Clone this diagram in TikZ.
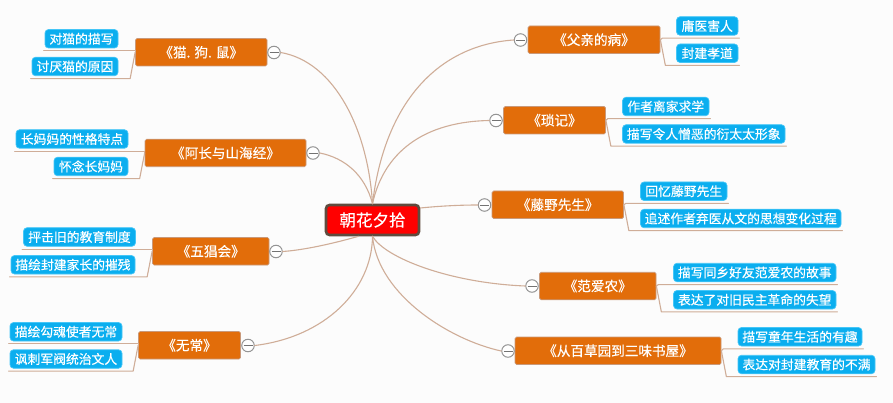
\documentclass[tikz,border=0pt]{standalone}
\usepackage{fontspec}
\setmainfont[FakeBold=0.35]{Noto Sans CJK SC}
\definecolor{bg}{HTML}{FCFCFC}
\definecolor{linkc}{HTML}{CFAD98}
\definecolor{topicc}{HTML}{E26D0A}
\definecolor{topicb}{HTML}{C9997A}
\definecolor{leafc}{HTML}{0BAEEF}
\definecolor{leafb}{HTML}{45C6F7}
\definecolor{rootb}{HTML}{5F4B3E}
\tikzset{
  link/.style={draw=linkc,line width=1.1pt,line cap=round,line join=round},
  rootnode/.style={draw=rootb,line width=2.6pt,fill=red,rounded corners=3.5pt,text=white,inner sep=0pt,minimum width=93pt,minimum height=30pt,font=\fontsize{16.5}{17}\selectfont},
  topicnode/.style={draw=topicb,line width=0.7pt,fill=topicc,rounded corners=1.5pt,text=white,inner sep=0pt,minimum height=27.5pt,font=\fontsize{13.6}{14}\selectfont},
  leafnode/.style={draw=leafb,line width=0.7pt,fill=leafc,rounded corners=3.5pt,text=white,inner sep=0pt,minimum height=18.5pt,font=\fontsize{12.8}{14}\selectfont},
  foldnode/.style={circle,draw=black!42,line width=1pt,fill=white,inner sep=0pt,minimum size=12.5pt,
    path picture={\draw[black!55,line width=0.8pt] ([xshift=-4.5pt]path picture bounding box.center) -- ([xshift=4.5pt]path picture bounding box.center);}}
}
\begin{document}
\begin{tikzpicture}[x=1pt,y=-1pt]
\useasboundingbox (0,0) rectangle (893,403);
\fill[bg] (0,0) rectangle (893,403);

\node[rootnode] (root) at (372.5,220) {朝花夕拾};

% left topics
\node[topicnode,minimum width=131.5pt] (t1) at (201.25,52.25) {《猫. 狗. 鼠》};
\node[foldnode] (d1) at (274,52.5) {};
\node[leafnode,minimum width=73pt] (a1) at (81.5,38.75) {对猫的描写};
\node[leafnode,minimum width=86pt] (a2) at (75,66.5) {讨厌猫的原因};

\node[topicnode,minimum width=161pt] (t2) at (225.5,153) {《阿长与山海经》};
\node[foldnode] (d2) at (313,153) {};
\node[leafnode,minimum width=112pt] (b1) at (72,139) {长妈妈的性格特点};
\node[leafnode,minimum width=74pt] (b2) at (91,166.5) {怀念长妈妈};

\node[topicnode,minimum width=116.5pt] (t3) at (210.75,251.25) {《五猖会》};
\node[foldnode] (d3) at (276,251.5) {};
\node[leafnode,minimum width=112pt] (c1) at (79.5,237) {抨击旧的教育制度};
\node[leafnode,minimum width=124pt] (c2) at (73,264.75) {描绘封建家长的摧残};

\node[topicnode,minimum width=102pt] (t4) at (189.5,345.25) {《无常》};
\node[foldnode] (d4) at (248,345.5) {};
\node[leafnode,minimum width=112pt] (e1) at (66,331.75) {描绘勾魂使者无常};
\node[leafnode,minimum width=112pt] (e2) at (66,359) {讽刺军阀统治文人};

% right topics
\node[topicnode,minimum width=132pt] (t5) at (594,39.75) {《父亲的病》};
\node[foldnode] (d5) at (520.5,40) {};
\node[leafnode,minimum width=61.5pt] (f1) at (707.25,26) {庸医害人};
\node[leafnode,minimum width=61.5pt] (f2) at (707.25,53.25) {封建孝道};

\node[topicnode,minimum width=102pt] (t6) at (554.5,120.25) {《琐记》};
\node[foldnode] (d6) at (496,120.5) {};
\node[leafnode,minimum width=86.5pt] (g1) at (665.75,106.5) {作者离家求学};
\node[leafnode,minimum width=162.5pt] (g2) at (703.75,134) {描写令人憎恶的衍太太形象};

\node[topicnode,minimum width=131.5pt] (t7) at (557.75,204.75) {《藤野先生》};
\node[foldnode] (d7) at (484.5,205) {};
\node[leafnode,minimum width=86.5pt] (h1) at (683.75,191.25) {回忆藤野先生};
\node[leafnode,minimum width=200.5pt] (h2) at (740.75,218.5) {追述作者弃医从文的思想变化过程};

\node[topicnode,minimum width=116.5pt] (t8) at (597.75,286) {《范爱农》};
\node[foldnode] (d8) at (532,286) {};
\node[leafnode,minimum width=162.5pt] (i1) at (754.75,272.5) {描写同乡好友范爱农的故事};
\node[leafnode,minimum width=162.5pt] (i2) at (754.75,299.75) {表达了对旧民主革命的失望};

\node[topicnode,minimum width=206pt] (t9) at (618,350.75) {《从百草园到三味书屋》};
\node[foldnode] (d9) at (508,351) {};
\node[leafnode,minimum width=124pt] (j1) at (800,336.75) {描写童年生活的有趣};
\node[leafnode,minimum width=137pt] (j2) at (806.5,364.5) {表达对封建教育的不满};

% main branches
\draw[link] (root.north) .. controls (368,130) and (335,62) .. (d1.east);
\draw[link] (root.north) .. controls (365,175) and (345,158) .. (d2.east);
\draw[link] ([xshift=-14pt]root.south) .. controls (335,243) and (305,250) .. (d3.east);
\draw[link] (root.south) .. controls (372,290) and (325,337) .. (d4.east);
\draw[link] (root.north) .. controls (385,100) and (440,45) .. (d5.west);
\draw[link] (root.north) .. controls (382,160) and (415,122) .. (d6.west);
\draw[link] ([yshift=12pt]root.east) .. controls (440,206) and (460,205) .. (d7.west);
\draw[link] (root.south) .. controls (385,258) and (450,283) .. (d8.west);
\draw[link] (root.south) .. controls (378,295) and (450,340) .. (d9.west);

% sub-branches
\draw[link] (t1.west) -- ([yshift=-2.5pt]a1.south west -| t1.west) -- ([xshift=-1pt,yshift=-2.5pt]a1.south west);
\draw[link] (t1.west) -- ([xshift=-5pt,yshift=-2.5pt]a2.south -| t1.west) -- ([xshift=-1pt,yshift=-2.5pt]a2.south west);
\draw[link] (t2.west) -- ([yshift=-2.5pt]b1.south west -| t2.west) -- ([xshift=-1pt,yshift=-2.5pt]b1.south west);
\draw[link] (t2.west) -- ([xshift=-5pt,yshift=-2.5pt]b2.south -| t2.west) -- ([xshift=-1pt,yshift=-2.5pt]b2.south west);
\draw[link] (t3.west) -- ([yshift=-2.5pt]c1.south west -| t3.west) -- ([xshift=-1pt,yshift=-2.5pt]c1.south west);
\draw[link] (t3.west) -- ([xshift=-5pt,yshift=-2.5pt]c2.south -| t3.west) -- ([xshift=-1pt,yshift=-2.5pt]c2.south west);
\draw[link] (t4.west) -- ([yshift=-2.5pt]e1.south west -| t4.west) -- ([xshift=-1pt,yshift=-2.5pt]e1.south west);
\draw[link] (t4.west) -- ([xshift=-5pt,yshift=-2.5pt]e2.south -| t4.west) -- ([xshift=-1pt,yshift=-2.5pt]e2.south west);

\draw[link] (t5.east) -- ([xshift=2pt,yshift=-2.5pt]f1.south -| t5.east) -- ([xshift=1pt,yshift=-2.5pt]f1.south east);
\draw[link] (t5.east) -- ([xshift=5pt,yshift=-2.5pt]f2.south -| t5.east) -- ([xshift=1pt,yshift=-2.5pt]f2.south east);
\draw[link] (t6.east) -- ([xshift=2pt,yshift=-2.5pt]g1.south -| t6.east) -- ([xshift=1pt,yshift=-2.5pt]g1.south east);
\draw[link] (t6.east) -- ([xshift=5pt,yshift=-2.5pt]g2.south -| t6.east) -- ([xshift=1pt,yshift=-2.5pt]g2.south east);
\draw[link] (t7.east) -- ([xshift=2pt,yshift=-2.5pt]h1.south -| t7.east) -- ([xshift=1pt,yshift=-2.5pt]h1.south east);
\draw[link] (t7.east) -- ([xshift=5pt,yshift=-2.5pt]h2.south -| t7.east) -- ([xshift=1pt,yshift=-2.5pt]h2.south east);
\draw[link] (t8.east) -- ([xshift=2pt,yshift=-2.5pt]i1.south -| t8.east) -- ([xshift=1pt,yshift=-2.5pt]i1.south east);
\draw[link] (t8.east) -- ([xshift=5pt,yshift=-2.5pt]i2.south -| t8.east) -- ([xshift=1pt,yshift=-2.5pt]i2.south east);
\draw[link] (t9.east) -- ([xshift=2pt,yshift=-2.5pt]j1.south -| t9.east) -- ([xshift=1pt,yshift=-2.5pt]j1.south east);
\draw[link] (t9.east) -- ([xshift=5pt,yshift=-2.5pt]j2.south -| t9.east) -- ([xshift=1pt,yshift=-2.5pt]j2.south east);
\end{tikzpicture}
\end{document}
